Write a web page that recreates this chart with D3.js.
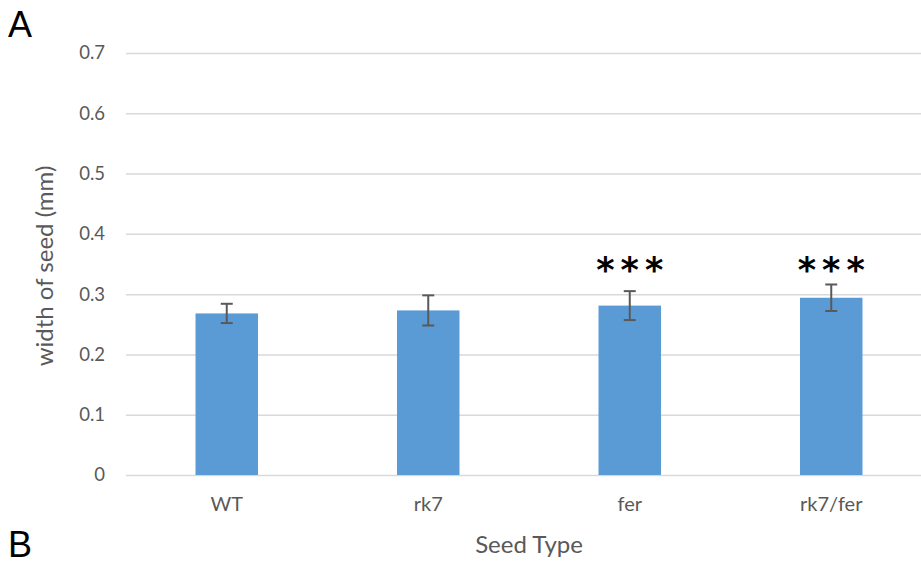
<!DOCTYPE html>
<html>
<head>
<meta charset="utf-8">
<script src="https://cdn.jsdelivr.net/npm/d3@7"></script>
<style>
  body { margin: 0; background: #fff; }
  svg { display: block; font-family: Lato, "Open Sans", sans-serif; }
</style>
</head>
<body>
<div class="chart"></div>
<script>
// seed width per genotype
var seedTypes = ["WT", "rk7", "fer", "rk7/fer"];
var meanWidth = [0.268, 0.273, 0.281, 0.294];
var errWidth = [0.016, 0.025, 0.024, 0.022];
var signif = ["", "", "***", "***"];
var yTicks = [0, 0.1, 0.2, 0.3, 0.4, 0.5, 0.6, 0.7];
var starLevel = 0.32; // stars sit at a common height

var svgWidth = 921;
var svgHeight = 564;
var margin = { top: 53, right: -11, bottom: 89, left: 126 };
var width = svgWidth - margin.left - margin.right;
var height = svgHeight - margin.top - margin.bottom;

var data = seedTypes.map(function(d, i) {
    return { type: d, mean: meanWidth[i], err: errWidth[i], sig: signif[i] };
});

var svg = d3.select(".chart")
    .append("svg")
    .attr("width", svgWidth)
    .attr("height", svgHeight);

var chart = svg.append("g")
    .attr("transform", "translate(" + margin.left + "," + margin.top + ")");

var x = d3.scaleBand().domain(seedTypes).range([0, width])
    .paddingInner(0.69).paddingOuter(0.345);
var y = d3.scaleLinear().domain([0, 0.7]).range([height, 0]);

// gridlines + y labels
var yAxis = d3.axisLeft(y).tickValues(yTicks).tickSize(-width).tickPadding(21)
    .tickFormat(function(d) { return d === 0 ? "0" : d3.format(".1f")(d); });
var gy = chart.append("g").call(yAxis);
gy.select(".domain").remove();
gy.selectAll("line").attr("stroke", "#d9d9d9").attr("stroke-width", 1.5);
gy.selectAll("text").attr("fill", "#595959").attr("font-size", "18.5px").attr("font-family", "Lato, sans-serif");

// bars
chart.selectAll(".bar")
    .data(data)
    .enter()
    .append("rect")
    .attr("class", "bar")
    .attr("x", function(d) { return x(d.type); })
    .attr("y", function(d) { return y(d.mean); })
    .attr("width", x.bandwidth())
    .attr("height", function(d) { return height - y(d.mean); })
    .attr("fill", "#5b9bd5");

// error bars
var eb = chart.selectAll(".err")
    .data(data)
    .enter()
    .append("g")
    .attr("class", "err")
    .attr("stroke", "#595959")
    .attr("stroke-width", 2);
eb.append("line")
    .attr("x1", function(d) { return x(d.type) + x.bandwidth() / 2; })
    .attr("x2", function(d) { return x(d.type) + x.bandwidth() / 2; })
    .attr("y1", function(d) { return y(d.mean + d.err); })
    .attr("y2", function(d) { return y(d.mean - d.err); });
eb.selectAll(".cap")
    .data(function(d) { return [d.mean + d.err, d.mean - d.err].map(function(v) { return { type: d.type, v: v }; }); })
    .enter()
    .append("line")
    .attr("x1", function(d) { return x(d.type) + x.bandwidth() / 2 - 6; })
    .attr("x2", function(d) { return x(d.type) + x.bandwidth() / 2 + 6; })
    .attr("y1", function(d) { return y(d.v); })
    .attr("y2", function(d) { return y(d.v); });

// significance stars
chart.selectAll(".sig")
    .data(data)
    .enter()
    .append("text")
    .attr("class", "sig")
    .attr("x", function(d) { return x(d.type) + x.bandwidth() / 2 + 3; })
    .attr("y", y(starLevel))
    .attr("text-anchor", "middle")
    .attr("font-family", "DejaVu Sans, sans-serif")
    .attr("font-size", "35px")
    .attr("font-weight", "bold")
    .attr("letter-spacing", "6px")
    .attr("fill", "#000")
    .text(function(d) { return d.sig; });

// x labels
var xAxis = d3.axisBottom(x).tickSize(0).tickPadding(22);
var gx = chart.append("g").attr("transform", "translate(0," + height + ")").call(xAxis);
gx.select(".domain").remove();
gx.selectAll("text").attr("fill", "#595959").attr("font-size", "20px").attr("font-family", "Lato, sans-serif");

// axis titles
svg.append("text")
    .attr("x", 529)
    .attr("y", 553)
    .attr("text-anchor", "middle")
    .attr("fill", "#595959")
    .attr("font-size", "24px")
    .text("Seed Type");

svg.append("text")
    .attr("transform", "translate(53," + (margin.top + y(0.35) + 2) + ") rotate(-90)")
    .attr("text-anchor", "middle")
    .attr("fill", "#595959")
    .attr("font-size", "24px")
    .text("width of seed (mm)");

// panel letters
svg.append("text").attr("x", 8).attr("y", 37).attr("font-size", "36px").attr("font-family", "Liberation Sans, sans-serif").attr("fill", "#000").text("A");
svg.append("text").attr("x", 8).attr("y", 557).attr("font-size", "36px").attr("font-family", "Liberation Sans, sans-serif").attr("fill", "#000").text("B");
</script>
</body>
</html>
